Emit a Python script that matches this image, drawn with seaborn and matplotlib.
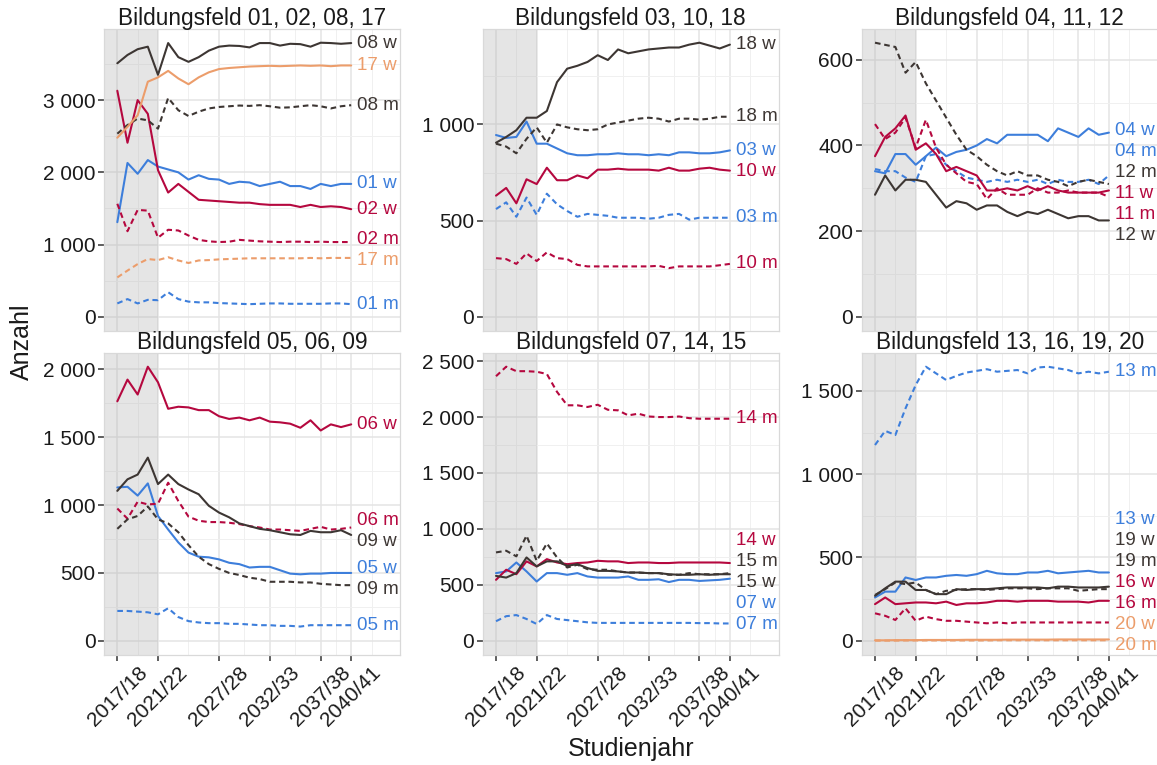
import matplotlib
matplotlib.use("Agg")
import matplotlib.pyplot as plt
import pandas as pd
import seaborn as sns
from matplotlib.ticker import FixedLocator, MultipleLocator, AutoMinorLocator, FuncFormatter

# ---------------------------------------------------------------- data
years = list(range(2017, 2041))
tick_years = [2017, 2021, 2027, 2032, 2037, 2040]
tick_labels = ["2017/18", "2021/22", "2027/28", "2032/33", "2037/38", "2040/41"]
observed_until = 2021  # shaded observation period

bf01_w = [1310, 2130, 1980, 2170, 2080, 2040, 2000, 1900, 1960, 1910, 1900, 1840,
          1870, 1860, 1810, 1840, 1870, 1810, 1810, 1770, 1840, 1810, 1840, 1840]
bf01_m = [185, 245, 185, 235, 230, 340, 245, 210, 200, 200, 190, 185,
          180, 175, 180, 185, 185, 180, 180, 180, 180, 185, 185, 175]
bf02_w = [3130, 2410, 3000, 2810, 2030, 1720, 1840, 1730, 1620, 1610, 1600, 1590,
          1580, 1580, 1560, 1550, 1550, 1550, 1520, 1550, 1520, 1530, 1520, 1490]
bf02_m = [1565, 1185, 1480, 1470, 1095, 1205, 1195, 1125, 1065, 1045, 1035, 1040,
          1065, 1055, 1045, 1040, 1035, 1040, 1040, 1035, 1040, 1035, 1035, 1035]
bf08_w = [3510, 3625, 3705, 3740, 3350, 3790, 3595, 3530, 3595, 3685, 3740, 3755,
          3750, 3730, 3790, 3790, 3755, 3780, 3775, 3740, 3795, 3790, 3780, 3790]
bf08_m = [2535, 2655, 2745, 2720, 2605, 3030, 2860, 2780, 2840, 2885, 2905, 2915,
          2925, 2920, 2930, 2915, 2895, 2900, 2915, 2930, 2915, 2885, 2915, 2930]
bf17_w = [2480, 2630, 2790, 3255, 3315, 3405, 3300, 3220, 3315, 3385, 3430, 3445,
          3455, 3465, 3470, 3475, 3470, 3475, 3480, 3475, 3480, 3470, 3480, 3480]
bf17_m = [545, 640, 730, 800, 785, 825, 780, 745, 780, 785, 795, 800,
          805, 810, 810, 810, 810, 810, 810, 815, 810, 815, 815, 815]

bf03_w = [945, 930, 935, 1015, 900, 900, 875, 850, 840, 840, 845, 845,
          850, 845, 845, 840, 845, 840, 855, 855, 850, 850, 855, 865]
bf03_m = [560, 595, 520, 620, 530, 640, 585, 550, 520, 535, 530, 525,
          515, 515, 515, 510, 515, 530, 535, 505, 515, 515, 515, 515]
bf10_w = [630, 670, 590, 715, 690, 775, 710, 710, 735, 720, 765, 765,
          770, 765, 765, 765, 760, 775, 760, 760, 770, 775, 765, 760]
bf10_m = [305, 300, 275, 330, 290, 335, 305, 300, 270, 262, 262, 262,
          262, 262, 262, 262, 265, 253, 262, 262, 262, 262, 268, 275]
bf18_w = [905, 935, 970, 1035, 1035, 1070, 1220, 1290, 1305, 1325, 1360, 1335,
          1390, 1370, 1380, 1390, 1395, 1400, 1400, 1415, 1425, 1410, 1395, 1415]
bf18_m = [900, 885, 850, 925, 985, 905, 1000, 985, 975, 970, 975, 1000,
          1010, 1020, 1030, 1035, 1030, 1015, 1030, 1030, 1025, 1030, 1040, 1040]

bf04_w = [340, 335, 380, 380, 355, 375, 395, 375, 385, 390, 400, 415,
          405, 425, 425, 425, 425, 410, 440, 430, 420, 440, 425, 430]
bf04_m = [345, 340, 340, 325, 315, 375, 380, 355, 340, 325, 320, 315,
          320, 315, 320, 315, 320, 310, 320, 315, 315, 320, 310, 330]
bf11_w = [375, 420, 440, 470, 390, 405, 380, 340, 350, 340, 330, 295,
          295, 300, 295, 305, 295, 305, 295, 290, 290, 290, 290, 295]
bf11_m = [450, 415, 430, 465, 395, 460, 395, 355, 335, 315, 310, 275,
          300, 285, 285, 285, 300, 290, 290, 295, 290, 290, 290, 280]
bf12_w = [285, 330, 295, 320, 320, 315, 285, 255, 270, 265, 250, 260,
          260, 245, 235, 245, 240, 250, 240, 230, 235, 235, 225, 225]
bf12_m = [640, 635, 630, 570, 595, 545, 505, 465, 425, 390, 375, 355,
          340, 330, 340, 330, 330, 320, 315, 305, 315, 320, 315, 310]

bf05_w = [1130, 1135, 1070, 1160, 920, 820, 725, 650, 620, 615, 600, 575,
          565, 540, 545, 545, 520, 495, 490, 495, 495, 500, 500, 500]
bf05_m = [220, 220, 215, 210, 195, 240, 175, 145, 135, 130, 130, 125,
          125, 120, 115, 115, 110, 110, 105, 115, 115, 115, 115, 115]
bf06_w = [1765, 1925, 1815, 2020, 1905, 1710, 1725, 1720, 1700, 1700, 1655, 1635,
          1645, 1625, 1645, 1615, 1610, 1600, 1570, 1625, 1550, 1595, 1575, 1595]
bf06_m = [975, 900, 1025, 1005, 1010, 1165, 1030, 915, 885, 875, 875, 870,
          860, 845, 835, 820, 820, 815, 810, 825, 840, 820, 825, 835]
bf09_w = [1105, 1190, 1225, 1350, 1155, 1225, 1155, 1115, 1080, 995, 945, 910,
          865, 845, 825, 815, 800, 785, 780, 810, 800, 800, 815, 780]
bf09_m = [825, 895, 920, 990, 895, 865, 800, 705, 620, 565, 530, 500,
          485, 465, 455, 435, 435, 435, 430, 430, 420, 415, 410, 410]

bf07_w = [605, 620, 700, 620, 530, 605, 605, 590, 605, 575, 565, 565,
          565, 575, 545, 545, 550, 525, 545, 545, 535, 540, 545, 555]
bf07_m = [175, 220, 230, 195, 150, 230, 195, 185, 175, 165, 160, 160,
          160, 160, 160, 160, 160, 160, 160, 160, 158, 158, 155, 155]
bf14_w = [545, 635, 595, 710, 665, 730, 700, 685, 695, 700, 715, 710,
          710, 695, 700, 700, 695, 695, 700, 700, 700, 700, 700, 695]
bf14_m = [2365, 2450, 2410, 2410, 2405, 2385, 2225, 2105, 2105, 2090, 2110, 2065,
          2060, 2015, 2030, 2005, 2000, 2000, 2005, 1990, 1985, 1985, 1985, 1985]
bf15_w = [580, 565, 605, 745, 665, 710, 710, 670, 685, 650, 625, 625,
          620, 610, 610, 605, 605, 595, 590, 590, 595, 590, 595, 595]
bf15_m = [790, 805, 755, 940, 715, 870, 745, 655, 680, 640, 635, 635,
          620, 610, 610, 605, 605, 590, 590, 605, 595, 595, 595, 605]

bf13_w = [260, 295, 295, 380, 365, 380, 380, 390, 395, 390, 400, 420,
          405, 400, 400, 410, 410, 420, 405, 410, 415, 420, 410, 410]
bf13_m = [1175, 1260, 1235, 1395, 1535, 1645, 1605, 1565, 1590, 1610, 1620, 1630,
          1615, 1620, 1625, 1605, 1640, 1645, 1635, 1625, 1605, 1615, 1605, 1615]
bf16_w = [220, 260, 220, 225, 230, 230, 225, 235, 215, 225, 225, 230,
          240, 240, 235, 240, 240, 240, 235, 235, 235, 230, 240, 240]
bf16_m = [165, 150, 125, 195, 120, 145, 130, 120, 120, 115, 110, 105,
          110, 105, 110, 110, 110, 110, 110, 110, 110, 110, 110, 110]
bf19_w = [270, 315, 355, 355, 305, 305, 280, 280, 310, 305, 310, 310,
          315, 320, 320, 320, 320, 315, 325, 325, 320, 320, 320, 325]
bf19_m = [275, 310, 350, 340, 350, 305, 280, 300, 305, 310, 310, 305,
          310, 315, 315, 315, 310, 315, 315, 315, 300, 305, 310, 310]
bf20_w = [3, 3, 4, 4, 4, 5, 5, 5, 5, 6, 6, 6, 6, 7, 7, 7, 7, 7, 8, 8, 8, 8, 8, 8]
bf20_m = [1, 1, 1, 2, 2, 2, 2, 2, 2, 2, 2, 2, 3, 3, 3, 3, 3, 3, 3, 3, 3, 3, 3, 3]

series = {
    "01": (bf01_w, bf01_m), "02": (bf02_w, bf02_m), "03": (bf03_w, bf03_m),
    "04": (bf04_w, bf04_m), "05": (bf05_w, bf05_m), "06": (bf06_w, bf06_m),
    "07": (bf07_w, bf07_m), "08": (bf08_w, bf08_m), "09": (bf09_w, bf09_m),
    "10": (bf10_w, bf10_m), "11": (bf11_w, bf11_m), "12": (bf12_w, bf12_m),
    "13": (bf13_w, bf13_m), "14": (bf14_w, bf14_m), "15": (bf15_w, bf15_m),
    "16": (bf16_w, bf16_m), "17": (bf17_w, bf17_m), "18": (bf18_w, bf18_m),
    "19": (bf19_w, bf19_m), "20": (bf20_w, bf20_m),
}
panels = [
    ["01", "02", "08", "17"],
    ["03", "10", "18"],
    ["04", "11", "12"],
    ["05", "06", "09"],
    ["07", "14", "15"],
    ["13", "16", "19", "20"],
]
line_colors = ["#3D7EDB", "#B5083F", "#3D3633", "#EC9D6B"]

rows = []
for p, fields in enumerate(panels):
    for f in fields:
        for sex, vals in zip(("w", "m"), series[f]):
            for yr, v in zip(years, vals):
                rows.append({"panel": p, "feld": f, "geschlecht": sex,
                             "jahr": yr, "anzahl": v})
df = pd.DataFrame(rows)

# ---------------------------------------------------------------- style
sns.set_theme(style="white")
plt.rcParams["font.family"] = ["Liberation Sans", "DejaVu Sans"]
plt.rcParams["axes.unicode_minus"] = False

W, H = 1157, 765
fig = plt.figure(figsize=(W / 100, H / 100), dpi=100)
col_left = [104, 482.7, 861.7]
row_top = [29, 353]
pw, ph = 296, 301.5
x_lo, x_hi = 2015.69, 2044.8
label_x = 2040.6
label_gap = 21      # px between stacked end labels
label_margin = 9    # px kept free at panel edges

# minor x breaks halfway between major breaks (extended by one step each side)
step0 = tick_years[1] - tick_years[0]
ext = [tick_years[0] - step0] + tick_years + [tick_years[-1] + step0]
x_minor = [(a + b) / 2 for a, b in zip(ext[:-1], ext[1:])]


def thousands(v, pos):
    return f"{v:,.0f}".replace(",", " ")


def pick_step(span):
    for s in (100, 200, 250, 500, 1000, 2000):
        if span / s <= 6:
            return s
    return 5000


def spread(targets, gap, lo, hi):
    """Positions (screen-down order) >= gap apart, close to targets, inside [lo, hi]."""
    shifted = [t - i * gap for i, t in enumerate(targets)]
    blocks = []
    for v in shifted:
        blocks.append([v, 1])
        while len(blocks) > 1 and blocks[-2][0] > blocks[-1][0]:
            v2, c2 = blocks.pop()
            v1, c1 = blocks.pop()
            blocks.append([(v1 * c1 + v2 * c2) / (c1 + c2), c1 + c2])
    fitted = []
    for v, c in blocks:
        fitted += [v] * c
    pos = [f + i * gap for i, f in enumerate(fitted)]
    n = len(pos)
    if pos[-1] > hi:
        pos[-1] = hi
        for i in range(n - 2, -1, -1):
            pos[i] = min(pos[i], pos[i + 1] - gap)
    if pos[0] < lo:
        pos[0] = lo
        for i in range(1, n):
            pos[i] = max(pos[i], pos[i - 1] + gap)
    return pos


for p, fields in enumerate(panels):
    r, c = divmod(p, 3)
    ax = fig.add_axes([col_left[c] / W, 1 - (row_top[r] + ph) / H, pw / W, ph / H])
    sub = df[df["panel"] == p]
    palette = {f: line_colors[i] for i, f in enumerate(fields)}

    sns.lineplot(data=sub, x="jahr", y="anzahl", hue="feld", style="geschlecht",
                 hue_order=fields, style_order=["w", "m"], palette=palette,
                 dashes={"w": "", "m": (2.7, 1.8)}, estimator=None,
                 linewidth=1.5, legend=False, ax=ax, zorder=3)

    ymax = sub["anzahl"].max()
    ax.set_xlim(x_lo, x_hi)
    ax.set_ylim(-0.05 * ymax, 1.05 * ymax)
    ax.axvspan(x_lo, observed_until, color="#acacac", alpha=0.3, lw=0, zorder=1)

    ax.xaxis.set_major_locator(FixedLocator(tick_years))
    ax.xaxis.set_minor_locator(FixedLocator(x_minor))
    ax.yaxis.set_major_locator(MultipleLocator(pick_step(1.1 * ymax)))
    ax.yaxis.set_minor_locator(AutoMinorLocator(2))
    ax.yaxis.set_major_formatter(FuncFormatter(thousands))

    ax.set_axisbelow(True)
    ax.grid(which="major", color="#e4e4e4", lw=1.1)
    ax.grid(which="minor", color="#f0f0f0", lw=0.7)
    for sp in ax.spines.values():
        sp.set_color("#d9d9d9")
        sp.set_linewidth(0.9)
    ax.set_xlabel("")
    ax.set_ylabel("")

    ax.tick_params(axis="y", which="major", length=4.5, width=1.1, color="#333333",
                   labelsize=15, pad=1.5, labelcolor="#1a1a1a", left=True)
    ax.tick_params(which="minor", length=0)
    if r == 1:
        ax.set_xticks(tick_years, tick_labels)
        ax.tick_params(axis="x", which="major", length=4.5, width=1.1,
                       color="#333333", labelsize=15, pad=1.5,
                       labelcolor="#1a1a1a", labelrotation=45, bottom=True)
    else:
        ax.tick_params(axis="x", which="major", bottom=False, labelbottom=False)

    title = "Bildungsfeld " + ", ".join(fields)
    ax.annotate(title, xy=(0.5, 1), xycoords="axes fraction", xytext=(0, 2.6),
                textcoords="offset points", ha="center", va="baseline",
                fontsize=16.3, color="#1a1a1a")

    # end labels, stacked so they do not overlap
    ends = []
    for i, f in enumerate(fields):
        for sex, vals in zip(("w", "m"), series[f]):
            ends.append((vals[-1], f"{f} {sex}", line_colors[i]))
    ends.sort(key=lambda e: -e[0])
    disp = [ax.transData.transform((label_x, v))[1] for v, _, _ in ends]
    bb = ax.get_window_extent()
    down = spread([-d for d in disp], label_gap,
                  -(bb.y1 - label_margin), -(bb.y0 + label_margin))
    inv = ax.transData.inverted()
    for (v, txt, col), d in zip(ends, down):
        yd = inv.transform((0, -d))[1]
        ax.text(label_x, yd, txt, color=col, fontsize=13.5, ha="left",
                va="center", clip_on=False, zorder=4)

fig.text(22 / W, 1 - 342 / H, "Anzahl", rotation=90, ha="center", va="center",
         fontsize=18, color="#1a1a1a")
fig.text(630.9 / W, 1 - 756 / H, "Studienjahr", ha="center", va="baseline",
         fontsize=18, color="#1a1a1a")

fig.savefig("out.png", dpi=100)
